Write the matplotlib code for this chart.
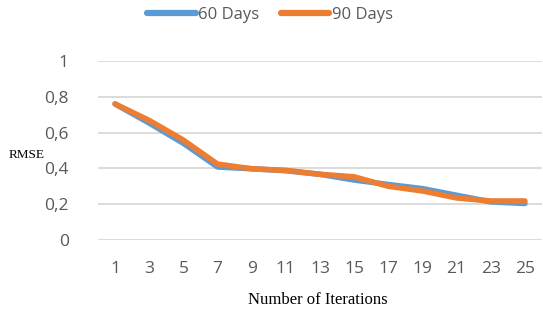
import matplotlib
matplotlib.use("Agg")
import matplotlib.pyplot as plt

# Data
iterations = ["1", "3", "5", "7", "9", "11", "13", "15", "17", "19", "21", "23", "25"]
rmse_60 = [0.76, 0.653, 0.54, 0.408, 0.398, 0.387, 0.367, 0.335, 0.31, 0.287, 0.25, 0.213, 0.204]
rmse_90 = [0.76, 0.668, 0.558, 0.424, 0.398, 0.389, 0.367, 0.353, 0.30, 0.274, 0.235, 0.218, 0.218]
yticks = [0, 0.2, 0.4, 0.6, 0.8, 1]
ytick_labels = ["0", "0,2", "0,4", "0,6", "0,8", "1"]

fig = plt.figure(figsize=(5.43, 3.17), dpi=100)
ax = fig.add_axes([98 / 543, 1 - 240 / 317, 444 / 543, 179 / 317])

pos = range(len(iterations))
ax.plot(pos, rmse_60, color="#5B9BD5", lw=4, solid_capstyle="round", label="60 Days")
ax.plot(pos, rmse_90, color="#ED7D31", lw=4, solid_capstyle="round", label="90 Days")

ax.set_xlim(-0.5, len(iterations) - 0.5)
ax.set_ylim(0, 1)
ax.set_xticks(list(pos))
ax.set_xticklabels(iterations)
ax.set_yticks(yticks)
ax.set_yticklabels(ytick_labels)

for s in ax.spines.values():
    s.set_visible(False)
ax.grid(axis="y", color="#D9D9D9", lw=1.3)
ax.set_axisbelow(True)
ax.tick_params(length=0, labelsize=12.5, labelcolor="#595959")
ax.tick_params(axis="x", pad=15)
ax.tick_params(axis="y", pad=21)
for t in ax.get_xticklabels() + ax.get_yticklabels():
    t.set_fontfamily("Open Sans")

fig.text(27 / 543, 1 - 155 / 317, "RMSE", family="Liberation Serif", fontsize=9.5,
         ha="center", va="center")
fig.text(318 / 543, 1 - 300 / 317, "Number of Iterations", family="Liberation Serif",
         fontsize=12, ha="center", va="center")

leg = fig.legend(loc="center", bbox_to_anchor=(270 / 543, 1 - 15 / 317), ncol=2,
                 frameon=False, handlelength=2.9, handletextpad=0.15, columnspacing=1.3,
                 prop={"family": "Open Sans", "size": 12})
for t in leg.get_texts():
    t.set_color("#595959")
for h in leg.get_lines():
    h.set_linewidth(4.5)

fig.savefig("out.png", dpi=100)
